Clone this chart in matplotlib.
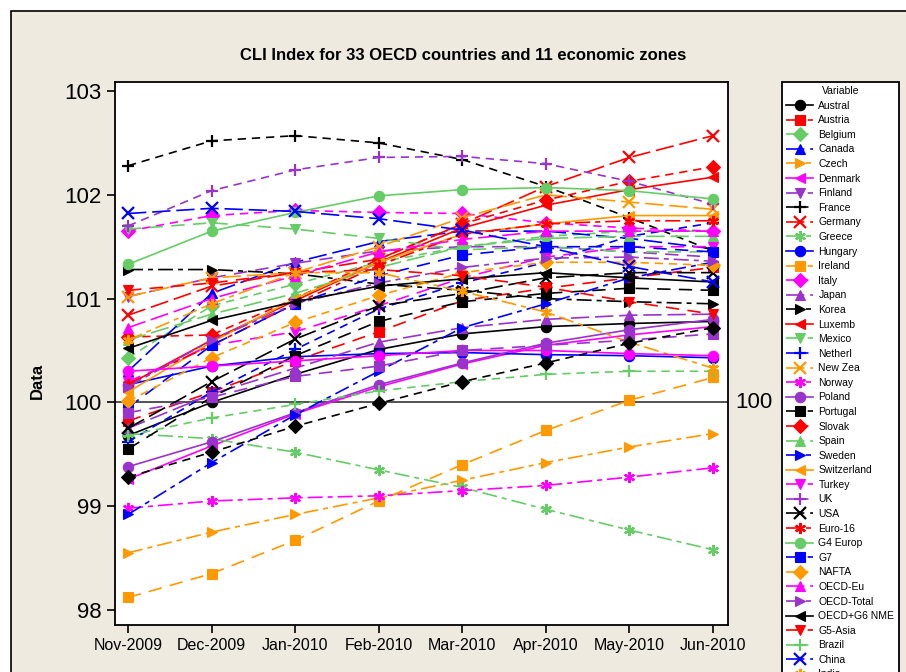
import numpy as np
import matplotlib
matplotlib.use('Agg')
import matplotlib.pyplot as plt
from matplotlib.patches import Rectangle

plt.rcParams['font.family'] = ['Liberation Sans Narrow', 'Liberation Sans', 'DejaVu Sans']

# Mois en abscisse
months = ['Nov-2009', 'Dec-2009', 'Jan-2010', 'Feb-2010', 'Mar-2010', 'Apr-2010', 'May-2010', 'Jun-2010']

# Valeurs (approximatives)
austral   = [99.68, 100.00, 100.27, 100.51, 100.66, 100.73, 100.76, 100.78]
austria   = [99.82, 100.10, 100.40, 100.68, 100.98, 101.10, 101.20, 101.30]
belgium   = [100.43, 100.93, 101.14, 101.35, 101.50, 101.60, 101.65, 101.65]
canada    = [100.30, 101.05, 101.35, 101.55, 101.65, 101.65, 101.58, 101.48]
czech     = [98.55, 98.75, 98.92, 99.08, 99.25, 99.42, 99.57, 99.70]
denmark   = [99.26, 99.58, 99.89, 100.15, 100.37, 100.55, 100.65, 100.73]
finland   = [101.02, 101.20, 101.34, 101.46, 101.50, 101.50, 101.45, 101.40]
france    = [102.28, 102.52, 102.57, 102.50, 102.34, 102.08, 101.78, 101.46]
germany   = [100.84, 101.12, 101.25, 101.38, 101.72, 102.08, 102.36, 102.57]
greece    = [99.70, 99.65, 99.52, 99.35, 99.18, 98.97, 98.77, 98.58]
hungary   = [100.17, 100.35, 100.44, 100.47, 100.48, 100.46, 100.45, 100.43]
ireland   = [98.12, 98.35, 98.67, 99.05, 99.40, 99.73, 100.02, 100.24]
italy     = [101.65, 101.80, 101.85, 101.83, 101.82, 101.73, 101.68, 101.65]
japan     = [99.75, 100.08, 100.33, 100.58, 100.72, 100.80, 100.84, 100.85]
korea     = [101.28, 101.28, 101.24, 101.14, 101.08, 101.00, 100.97, 100.95]
luxemb    = [100.17, 100.60, 100.98, 101.35, 101.68, 101.90, 102.05, 102.17]
mexico    = [101.67, 101.73, 101.67, 101.58, 101.47, 101.50, 101.45, 101.45]
netherl   = [99.62, 100.10, 100.51, 100.90, 101.15, 101.35, 101.60, 101.73]
new_zea   = [101.02, 101.20, 101.25, 101.50, 101.78, 102.00, 101.93, 101.86]
norway    = [98.98, 99.05, 99.08, 99.10, 99.15, 99.20, 99.28, 99.37]
poland    = [99.38, 99.62, 99.90, 100.17, 100.38, 100.57, 100.70, 100.80]
portugal  = [99.55, 100.05, 100.45, 100.78, 100.97, 101.05, 101.10, 101.08]
slovak    = [100.63, 100.65, 101.00, 101.38, 101.72, 101.95, 102.13, 102.27]
spain     = [100.60, 100.85, 101.05, 101.30, 101.50, 101.58, 101.60, 101.60]
sweden    = [98.92, 99.42, 99.88, 100.30, 100.72, 100.95, 101.20, 101.35]
switzerl  = [100.10, 100.58, 101.00, 101.35, 101.62, 101.72, 101.80, 101.80]
turkey    = [100.20, 100.55, 100.68, 100.93, 101.20, 101.40, 101.50, 101.50]
uk        = [101.70, 102.04, 102.24, 102.36, 102.37, 102.30, 102.13, 101.91]
usa       = [99.75, 100.20, 100.61, 100.93, 101.05, 101.20, 101.25, 101.25]
euro16    = [100.18, 100.55, 100.95, 101.32, 101.62, 101.72, 101.75, 101.75]
g4_europ  = [101.33, 101.65, 101.83, 101.99, 102.05, 102.07, 102.04, 101.96]
g7        = [99.95, 100.55, 100.95, 101.22, 101.42, 101.50, 101.50, 101.45]
nafta     = [100.01, 100.43, 100.77, 101.03, 101.25, 101.35, 101.35, 101.32]
oecd_eu   = [100.72, 101.00, 101.22, 101.45, 101.57, 101.65, 101.65, 101.65]
oecd_tot  = [100.15, 100.60, 100.95, 101.15, 101.30, 101.39, 101.40, 101.36]
oecd_g6   = [100.52, 100.79, 100.97, 101.12, 101.19, 101.25, 101.20, 101.16]
g5_asia   = [101.08, 101.15, 101.25, 101.28, 101.22, 101.11, 100.97, 100.85]
brazil    = [99.68, 99.85, 99.98, 100.11, 100.20, 100.27, 100.30, 100.30]
china     = [101.82, 101.87, 101.84, 101.77, 101.66, 101.50, 101.31, 101.16]
india     = [100.60, 100.95, 101.25, 101.25, 101.07, 100.87, 100.58, 100.33]
indonesia = [100.30, 100.35, 100.40, 100.45, 100.50, 100.50, 100.47, 100.45]
russia    = [99.90, 100.05, 100.25, 100.35, 100.50, 100.55, 100.60, 100.66]
s_africa  = [99.28, 99.52, 99.77, 99.99, 100.20, 100.38, 100.57, 100.72]

names = ['Austral', 'Austria', 'Belgium', 'Canada', 'Czech', 'Denmark', 'Finland',
         'France', 'Germany', 'Greece', 'Hungary', 'Ireland', 'Italy', 'Japan',
         'Korea', 'Luxemb', 'Mexico', 'Netherl', 'New Zea', 'Norway', 'Poland',
         'Portugal', 'Slovak', 'Spain', 'Sweden', 'Switzerland', 'Turkey', 'UK',
         'USA', 'Euro-16', 'G4 Europ', 'G7', 'NAFTA', 'OECD-Eu', 'OECD-Total',
         'OECD+G6 NME', 'G5-Asia', 'Brazil', 'China', 'India', 'Indonesia',
         'Russia', 'S.Africa']
series = [austral, austria, belgium, canada, czech, denmark, finland, france,
          germany, greece, hungary, ireland, italy, japan, korea, luxemb, mexico,
          netherl, new_zea, norway, poland, portugal, slovak, spain, sweden,
          switzerl, turkey, uk, usa, euro16, g4_europ, g7, nafta, oecd_eu,
          oecd_tot, oecd_g6, g5_asia, brazil, china, india, indonesia, russia,
          s_africa]

# Cycles de styles (facon Minitab)
colors = ['black', 'red', '#66CC66', 'blue', '#FF9900', 'magenta', '#9933CC']
markers = ['o', 's', 'D', '^', '>', '<', 'v', '+', 'x', (6, 2, 0)]
styles = ['-', (0, (8, 5)), (0, (5, 3.5)), (0, (11, 3.5)), (0, (9, 3, 3, 3))]

fig = plt.figure(figsize=(9.06, 6.72), dpi=100)
fig.patch.set_facecolor('white')
fond = Rectangle((11/906, -0.1), 1.0, 1 - 11/672 + 0.1,
                 transform=fig.transFigure, facecolor='#EEEAE0',
                 edgecolor='black', linewidth=1.2, zorder=-10)
fig.patches.append(fond)

ax = fig.add_axes([115/906, 1 - 625/672, (728-115)/906, (625-82)/672])
ax.set_zorder(1)
ax.set_facecolor('white')
x = np.arange(len(months))

ax.axhline(100, color='#333333', linewidth=1.2, zorder=1)

for i in range(len(series)):
    m = markers[i % 10]
    filled = m not in ['+', 'x'] and not isinstance(m, tuple)
    ax.plot(x, series[i], color=colors[i % 7], linestyle=styles[i % 5],
            linewidth=1.2, marker=m, markersize=7.5 if filled else 8,
            markeredgewidth=0.8 if filled else 1.6, label=names[i], zorder=2)

ax.set_xlim(-0.156, 7.18)
ax.set_ylim(97.855, 103.087)
ax.set_xticks(x)
ax.set_xticklabels(months, fontsize=11.5)
ax.set_yticks([98, 99, 100, 101, 102, 103])
ax.set_yticklabels(['98', '99', '100', '101', '102', '103'], fontsize=16)
ax.tick_params(direction='out', length=6, width=1.2, color='black')
for s in ax.spines.values():
    s.set_linewidth(1.3)

ax.set_ylabel('Data', fontsize=12, fontweight='bold')
ax.yaxis.set_label_coords(-0.115, 0.45)
ax.text(1.012, 100, '100', transform=ax.get_yaxis_transform(), fontsize=16,
        va='center', ha='left')

fig.text(463/906, 1 - 55/672, 'CLI Index for 33 OECD countries and 11 economic zones',
         fontsize=12, fontweight='bold', ha='center', va='center')

leg = fig.legend(loc='upper left', bbox_to_anchor=(782/906, 1 - 82/672),
                 title='Variable', fontsize=7.5, title_fontsize=7.5, frameon=True,
                 fancybox=False, edgecolor='black', facecolor='white',
                 handlelength=2.6, handletextpad=0.5, labelspacing=0.44,
                 borderpad=0.4, borderaxespad=0, markerscale=1.0)
leg.get_frame().set_linewidth(1.3)
leg.get_frame().set_alpha(1)

plt.savefig('out.png', dpi=100)
